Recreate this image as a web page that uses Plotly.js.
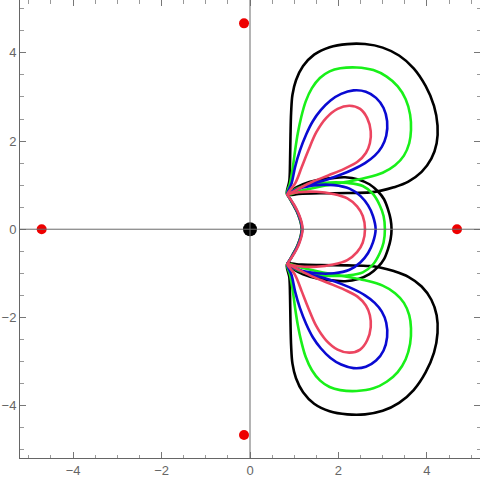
<!DOCTYPE html>
<html>
<head>
<meta charset="utf-8">
<script src="https://cdn.plot.ly/plotly-3.0.1.min.js"></script>
<style>html,body{margin:0;padding:0;background:#fff;}#chart{width:480px;height:477px;}</style>
</head>
<body>
<div id="chart"></div>
<script>
// ---------- data ----------
// Black curve
var blackUpX = [0.84,0.89,0.905,0.915,0.93,0.96,1.04,1.2,1.45,1.8,2.2,2.6,3.0,3.37,3.7,3.97,4.16,4.24,4.22,4.1,3.88,3.58,3.25,2.94,2.71,2.2,1.58,1.1,0.84];
var blackUpY = [0.79,1.1,1.5,2.1,2.65,3.05,3.38,3.7,3.96,4.13,4.2,4.2,4.12,3.94,3.65,3.25,2.8,2.35,1.95,1.6,1.3,1.08,0.95,0.87,0.835,0.82,0.815,0.80,0.79];
var blackLoX = [0.84,0.89,0.905,0.915,0.93,0.96,1.04,1.2,1.45,1.8,2.2,2.6,3.0,3.37,3.7,3.97,4.16,4.24,4.22,4.1,3.88,3.58,3.25,2.94,2.71,2.2,1.58,1.1,0.84];
var blackLoY = [-0.79,-1.1,-1.5,-2.1,-2.65,-3.05,-3.38,-3.7,-3.96,-4.13,-4.2,-4.2,-4.12,-3.94,-3.65,-3.25,-2.8,-2.35,-1.95,-1.6,-1.3,-1.08,-0.95,-0.87,-0.835,-0.82,-0.815,-0.80,-0.79];
var blackMidX = [0.84,0.97,1.2,1.5,1.85,2.15,2.45,2.7,2.9,3.03,3.12,3.18,3.2,3.18,3.12,3.03,2.9,2.7,2.45,2.15,1.85,1.5,1.2,0.97,0.84];
var blackMidY = [0.79,0.9,1.02,1.11,1.16,1.18,1.13,1.02,0.85,0.68,0.45,0.22,0,-0.22,-0.45,-0.68,-0.85,-1.02,-1.13,-1.18,-1.16,-1.11,-1.02,-0.9,-0.79];
var blackArcX = [0.84,0.92,0.98,1.05,1.1,1.145,1.17,1.145,1.1,1.05,0.98,0.92,0.84];
var blackArcY = [0.79,0.66,0.55,0.42,0.3,0.16,0,-0.16,-0.3,-0.42,-0.55,-0.66,-0.79];

// Green curve
var greenUpX = [0.84,0.905,0.97,1.02,1.08,1.16,1.26,1.4,1.58,1.8,2.04,2.41,2.79,3.09,3.34,3.52,3.62,3.64,3.6,3.48,3.28,3.0,2.6,2.1,1.6,1.15,0.84];
var greenUpY = [0.79,1.04,1.415,1.79,2.17,2.55,2.9,3.2,3.43,3.58,3.65,3.67,3.61,3.46,3.24,2.95,2.6,2.25,1.95,1.67,1.45,1.28,1.16,1.06,0.97,0.87,0.79];
var greenLoX = [0.84,0.905,0.97,1.02,1.08,1.16,1.26,1.4,1.58,1.8,2.04,2.41,2.79,3.09,3.34,3.52,3.62,3.64,3.6,3.48,3.28,3.0,2.6,2.1,1.6,1.15,0.84];
var greenLoY = [-0.79,-1.04,-1.415,-1.79,-2.17,-2.55,-2.9,-3.2,-3.43,-3.58,-3.65,-3.67,-3.61,-3.46,-3.24,-2.95,-2.6,-2.25,-1.95,-1.67,-1.45,-1.28,-1.16,-1.06,-0.97,-0.87,-0.79];
var greenMidX = [0.84,1.05,1.4,1.8,2.2,2.55,2.78,2.93,3.02,3.05,3.02,2.93,2.78,2.55,2.2,1.8,1.4,1.05,0.84];
var greenMidY = [0.79,0.92,1.02,1.06,1.05,0.98,0.8,0.55,0.3,0,-0.3,-0.55,-0.8,-0.98,-1.05,-1.06,-1.02,-0.92,-0.79];
var greenArcX = [0.84,0.92,0.985,1.055,1.105,1.15,1.175,1.15,1.105,1.055,0.985,0.92,0.84];
var greenArcY = [0.79,0.66,0.55,0.42,0.3,0.16,0,-0.16,-0.3,-0.42,-0.55,-0.66,-0.79];

// Blue curve
var blueUpX = [0.84,0.94,1.02,1.13,1.27,1.42,1.6,1.82,2.06,2.34,2.62,2.85,3.02,3.1,3.08,2.98,2.82,2.6,2.34,2.06,1.75,1.36,1.0,0.84];
var blueUpY = [0.79,1.04,1.415,1.79,2.15,2.45,2.7,2.92,3.07,3.15,3.12,2.98,2.75,2.45,2.12,1.87,1.67,1.5,1.36,1.24,1.13,1.02,0.88,0.79];
var blueLoX = [0.84,0.94,1.02,1.13,1.27,1.42,1.6,1.82,2.06,2.34,2.62,2.85,3.02,3.1,3.08,2.98,2.82,2.6,2.34,2.06,1.75,1.36,1.0,0.84];
var blueLoY = [-0.79,-1.04,-1.415,-1.79,-2.15,-2.45,-2.7,-2.92,-3.07,-3.15,-3.12,-2.98,-2.75,-2.45,-2.12,-1.87,-1.67,-1.5,-1.36,-1.24,-1.13,-1.02,-0.88,-0.79];
var blueMidX = [0.84,1.1,1.5,1.9,2.25,2.5,2.67,2.78,2.84,2.78,2.67,2.5,2.25,1.9,1.5,1.1,0.84];
var blueMidY = [0.79,0.92,1.0,1.0,0.92,0.75,0.54,0.3,0,-0.3,-0.54,-0.75,-0.92,-1.0,-1.0,-0.92,-0.79];
var blueArcX = [0.84,0.925,0.99,1.06,1.11,1.155,1.18,1.155,1.11,1.06,0.99,0.925,0.84];
var blueArcY = [0.79,0.66,0.55,0.42,0.3,0.16,0,-0.16,-0.3,-0.42,-0.55,-0.66,-0.79];

// Red curve
var redUpX = [0.84,1.02,1.17,1.32,1.5,1.72,1.98,2.25,2.49,2.65,2.73,2.71,2.62,2.43,2.13,1.77,1.4,1.06,0.84];
var redUpY = [0.79,1.04,1.41,1.79,2.2,2.52,2.73,2.8,2.73,2.52,2.22,1.95,1.73,1.53,1.37,1.22,1.07,0.9,0.79];
var redLoX = [0.84,1.02,1.17,1.32,1.5,1.72,1.98,2.25,2.49,2.65,2.73,2.71,2.62,2.43,2.13,1.77,1.4,1.06,0.84];
var redLoY = [-0.79,-1.04,-1.41,-1.79,-2.2,-2.52,-2.73,-2.8,-2.73,-2.52,-2.22,-1.95,-1.73,-1.53,-1.37,-1.22,-1.07,-0.9,-0.79];
var redMidX = [0.84,1.1,1.5,1.88,2.2,2.42,2.55,2.6,2.55,2.42,2.2,1.88,1.5,1.1,0.84];
var redMidY = [0.79,0.84,0.85,0.8,0.7,0.52,0.3,0,-0.3,-0.52,-0.7,-0.8,-0.85,-0.84,-0.79];
var redArcX = [0.84,0.93,1.0,1.07,1.12,1.165,1.19,1.165,1.12,1.07,1.0,0.93,0.84];
var redArcY = [0.79,0.66,0.55,0.42,0.3,0.16,0,-0.16,-0.3,-0.42,-0.55,-0.66,-0.79];

// Points
var redDotX = [-4.71, 4.68, -0.135, -0.135];
var redDotY = [0, 0, 4.67, -4.67];
var originDotX = [0];
var originDotY = [0];

// Axis ticks
var tickVals = [-4, -2, 0, 2, 4];
var tickText = ["\u22124", "\u22122", "0", "2", "4"];

// ---------- build traces ----------
function joinParts(parts) {
  var xs = [], ys = [];
  parts.forEach(function (p, i) {
    if (i > 0) { xs.push(null); ys.push(null); }
    xs = xs.concat(p[0]); ys = ys.concat(p[1]);
  });
  return [xs, ys];
}
function curve(parts, color) {
  var d = joinParts(parts);
  return {
    x: d[0], y: d[1], type: 'scatter', mode: 'lines',
    line: {color: color, width: 2.6, shape: 'spline', smoothing: 1},
    connectgaps: false, hoverinfo: 'skip', showlegend: false
  };
}

var traces = [
  curve([[blackUpX, blackUpY], [blackLoX, blackLoY], [blackMidX, blackMidY], [blackArcX, blackArcY]], '#000000'),
  curve([[greenUpX, greenUpY], [greenLoX, greenLoY], [greenMidX, greenMidY], [greenArcX, greenArcY]], '#19f019'),
  curve([[blueUpX, blueUpY], [blueLoX, blueLoY], [blueMidX, blueMidY], [blueArcX, blueArcY]], '#0a0ad2'),
  curve([[redUpX, redUpY], [redLoX, redLoY], [redMidX, redMidY], [redArcX, redArcY]], '#ec4560'),
  {x: redDotX, y: redDotY, type: 'scatter', mode: 'markers',
   marker: {color: '#ee0000', size: 10}, hoverinfo: 'skip', showlegend: false},
  {x: originDotX, y: originDotY, type: 'scatter', mode: 'markers',
   marker: {color: '#000000', size: 14}, hoverinfo: 'skip', showlegend: false}
];

var axisCommon = {
  tickmode: 'array', tickvals: tickVals, ticktext: tickText,
  ticks: 'inside', ticklen: 6, tickwidth: 1, tickcolor: '#777',
  minor: {tickmode: 'linear', tick0: 0, dtick: 0.5, ticks: 'inside', ticklen: 3.5, tickcolor: '#999', tickwidth: 1, showgrid: false},
  showline: true, linecolor: '#666', linewidth: 1, mirror: 'allticks',
  showgrid: false, zeroline: false,
  tickfont: {family: 'Liberation Sans, Arial, sans-serif', size: 13, color: '#666'},
  fixedrange: true
};

var layout = {
  width: 480, height: 477,
  margin: {l: 20, r: 0, t: 0, b: 19, pad: 0},
  paper_bgcolor: '#ffffff', plot_bgcolor: '#ffffff',
  showlegend: false,
  xaxis: Object.assign({}, axisCommon, {range: [-5.2, 5.2]}),
  yaxis: Object.assign({}, axisCommon, {range: [-5.19, 5.2]}),
  shapes: [
    {type: 'line', xref: 'x', yref: 'paper', x0: 0, x1: 0, y0: 0, y1: 1, layer: 'above', line: {color: '#6a6a6a', width: 1}},
    {type: 'line', xref: 'paper', yref: 'y', x0: 0, x1: 1, y0: 0, y1: 0, layer: 'above', line: {color: '#6a6a6a', width: 1}}
  ]
};

Plotly.newPlot('chart', traces, layout, {displayModeBar: false, staticPlot: true});
</script>
</body>
</html>
